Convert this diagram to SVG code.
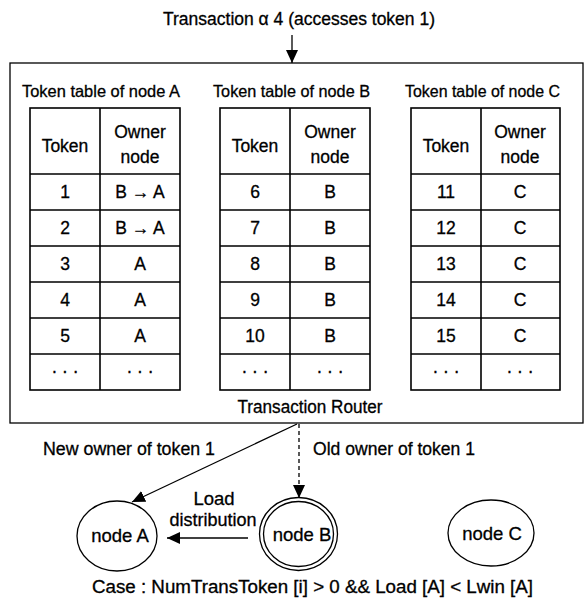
<svg xmlns="http://www.w3.org/2000/svg" width="587" height="602" viewBox="0 0 587 602">
<style>
text{font-family:"Liberation Sans",Arial,sans-serif;font-size:17.5px;fill:#000;stroke:#000;stroke-width:0.3}
.c{text-anchor:middle}
.tt{font-size:16.5px}
.nl{font-size:18.5px}
.tb{fill:none;stroke:#000;stroke-width:1.6}
.ln{fill:none;stroke:#000;stroke-width:1.3}
.nd{fill:#fff;stroke:#000;stroke-width:1.3}
</style>
<defs>
<marker id="ah" viewBox="0 0 13 12" refX="13" refY="6" markerWidth="13" markerHeight="12" markerUnits="userSpaceOnUse" orient="auto">
<path d="M0,0 L13,6 L0,12 Z" fill="#000"/>
</marker>
</defs>
<rect width="587" height="602" fill="#fff"/>

<g id="title">
<text x="163" y="25" textLength="272" lengthAdjust="spacingAndGlyphs">Transaction α 4 (accesses token 1)</text>
</g>

<g id="router">
<rect x="10" y="63" width="573" height="360" class="ln"/>
<text class="c" x="310" y="413" textLength="145" lengthAdjust="spacingAndGlyphs">Transaction Router</text>
</g>

<g id="tableA">
<text class="tt" x="22" y="97" textLength="158" lengthAdjust="spacingAndGlyphs">Token table of node A</text>
<rect x="30" y="108" width="150" height="282" class="tb"/>
<path class="tb" d="M100,108V390M30,174H180M30,210H180M30,246H180M30,282H180M30,318H180M30,354H180"/>
<text class="c" x="65" y="152">Token</text>
<text class="c" x="140" y="138">Owner</text>
<text class="c" x="140" y="163">node</text>
<text class="c" x="65" y="198">1</text><text class="c" x="140" y="198">B → A</text>
<text class="c" x="65" y="234">2</text><text class="c" x="140" y="234">B → A</text>
<text class="c" x="65" y="270">3</text><text class="c" x="140" y="270">A</text>
<text class="c" x="65" y="306">4</text><text class="c" x="140" y="306">A</text>
<text class="c" x="65" y="342">5</text><text class="c" x="140" y="342">A</text>
<text class="c" x="65" y="377">· · ·</text><text class="c" x="140" y="377">· · ·</text>
</g>

<g id="tableB">
<text class="tt" x="213" y="97" textLength="157" lengthAdjust="spacingAndGlyphs">Token table of node B</text>
<rect x="220" y="108" width="150" height="282" class="tb"/>
<path class="tb" d="M290,108V390M220,174H370M220,210H370M220,246H370M220,282H370M220,318H370M220,354H370"/>
<text class="c" x="255" y="152">Token</text>
<text class="c" x="330" y="138">Owner</text>
<text class="c" x="330" y="163">node</text>
<text class="c" x="255" y="198">6</text><text class="c" x="330" y="198">B</text>
<text class="c" x="255" y="234">7</text><text class="c" x="330" y="234">B</text>
<text class="c" x="255" y="270">8</text><text class="c" x="330" y="270">B</text>
<text class="c" x="255" y="306">9</text><text class="c" x="330" y="306">B</text>
<text class="c" x="255" y="342">10</text><text class="c" x="330" y="342">B</text>
<text class="c" x="255" y="377">· · ·</text><text class="c" x="330" y="377">· · ·</text>
</g>

<g id="tableC">
<text class="tt" x="405" y="97" textLength="155" lengthAdjust="spacingAndGlyphs">Token table of node C</text>
<rect x="411" y="108" width="149" height="282" class="tb"/>
<path class="tb" d="M481,108V390M411,174H560M411,210H560M411,246H560M411,282H560M411,318H560M411,354H560"/>
<text class="c" x="446" y="152">Token</text>
<text class="c" x="520" y="138">Owner</text>
<text class="c" x="520" y="163">node</text>
<text class="c" x="446" y="198">11</text><text class="c" x="520" y="198">C</text>
<text class="c" x="446" y="234">12</text><text class="c" x="520" y="234">C</text>
<text class="c" x="446" y="270">13</text><text class="c" x="520" y="270">C</text>
<text class="c" x="446" y="306">14</text><text class="c" x="520" y="306">C</text>
<text class="c" x="446" y="342">15</text><text class="c" x="520" y="342">C</text>
<text class="c" x="446" y="377">· · ·</text><text class="c" x="520" y="377">· · ·</text>
</g>

<g id="nodeA">
<ellipse cx="117" cy="536" rx="40" ry="35" class="nd"/>
<text class="c nl" x="120" y="542">node A</text>
</g>
<g id="nodeB">
<ellipse cx="298.5" cy="534" rx="39" ry="36.5" class="nd"/>
<ellipse cx="298.5" cy="534" rx="35" ry="32.5" class="nd"/>
<text class="c nl" x="302" y="541">node B</text>
</g>
<g id="nodeC">
<ellipse cx="491" cy="533" rx="43" ry="33" class="nd"/>
<text class="c nl" x="492" y="540">node C</text>
</g>

<g id="connectors">
<line x1="292" y1="35" x2="292" y2="63" class="ln" marker-end="url(#ah)"/>
<line x1="297" y1="424" x2="132" y2="502" class="ln" marker-end="url(#ah)"/>
<line x1="299" y1="424" x2="299" y2="498" class="ln" stroke-dasharray="4,3" marker-end="url(#ah)"/>
<line x1="248" y1="538" x2="167" y2="538" class="ln" marker-end="url(#ah)"/>
</g>

<g id="labels">
<text x="43" y="455" textLength="172" lengthAdjust="spacingAndGlyphs">New owner of  token 1</text>
<text x="313" y="455" textLength="162" lengthAdjust="spacingAndGlyphs">Old owner of  token 1</text>
<text class="c nl" x="214" y="505">Load</text>
<text class="c" x="213" y="526" textLength="87" lengthAdjust="spacingAndGlyphs">distribution</text>
<text x="92" y="593" textLength="441" lengthAdjust="spacingAndGlyphs">Case : NumTransToken [i] &gt; 0 &amp;&amp; Load [A] &lt; Lwin [A]</text>
</g>
</svg>
